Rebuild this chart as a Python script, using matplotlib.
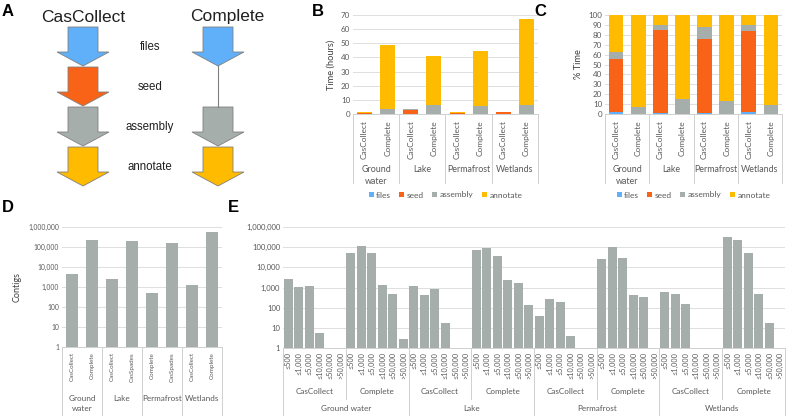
import numpy as np
import matplotlib.pyplot as plt
from matplotlib.patches import Polygon
from matplotlib.ticker import FuncFormatter, FixedLocator
import matplotlib.transforms as mtrans

plt.rcParams['font.family'] = ['Lato', 'DejaVu Sans']
plt.rcParams['text.color'] = '#404040'

# colours for the pipeline steps
c_files = '#5fb0f8'
c_seed = '#f86318'
c_asm = '#a5aeab'
c_ann = '#ffbb00'
c_grid = '#dedede'
c_tick = '#595959'

steps = ['files', 'seed', 'assembly', 'annotate']
envs = ['Ground\nwater', 'Lake', 'Permafrost', 'Wetlands']
methods = ['CasCollect', 'Complete']

# B: time in hours (CasCollect, Complete per environment)
b_files = [0.04, 0.0, 0.04, 0.0, 0.02, 0.0, 0.04, 0.0]
b_seed = [0.85, 0.0, 3.1, 0.0, 0.85, 0.0, 1.25, 0.0]
b_asm = [0.12, 3.4, 0.18, 6.4, 0.13, 5.6, 0.1, 6.4]
b_ann = [0.6, 45.4, 0.35, 34.9, 0.15, 39.2, 0.16, 61.0]

# C: % time
c_files_v = [2.5, 0.0, 1.0, 0.0, 1.5, 0.0, 2.5, 0.0]
c_seed_v = [53.5, 0.0, 84.0, 0.0, 74.5, 0.0, 81.0, 0.0]
c_asm_v = [7.0, 7.0, 5.0, 15.5, 11.5, 13.0, 6.0, 9.5]
c_ann_v = [37.0, 93.0, 10.0, 84.5, 12.5, 87.0, 10.5, 90.5]

# D: total contigs
d_labels = ['CasCollect', 'Complete', 'CasCollect', 'CasSpades',
            'Complete', 'CasSpades', 'CasCollect', 'Complete']
d_vals = [4700, 212000, 2400, 205000, 520, 150000, 1200, 560000]

# E: contigs by length bin
e_bins = ['≤500', '≤1,000', '≤5,000', '≤10,000', '≤50,000', '>50,000']
e_groups = ['Ground water', 'Lake', 'Permafrost', 'Wetlands']
e_vals = [
    [2600, 1070, 1200, 5.3, 0, 0],
    [50000, 112000, 49000, 1380, 480, 2.9],
    [1200, 410, 850, 16.5, 0, 0],
    [71000, 96000, 36000, 2450, 1600, 132],
    [40, 270, 200, 4, 0, 0],
    [25700, 100000, 29000, 430, 330, 0],
    [580, 460, 160, 0, 0, 0],
    [337000, 230000, 49000, 460, 18, 0],
]

W, H = 787, 416
fig = plt.figure(figsize=(W / 100, H / 100), dpi=100)


def ax_px(x0, y0, x1, y1):
    return fig.add_axes([x0 / W, 1 - y1 / H, (x1 - x0) / W, (y1 - y0) / H])


def style(ax):
    for s in ['top', 'right', 'left']:
        ax.spines[s].set_visible(False)
    ax.spines['bottom'].set_color('#d0d0d0')
    ax.spines['bottom'].set_linewidth(0.7)
    ax.tick_params(axis='y', length=0, colors=c_tick, pad=2)
    ax.tick_params(axis='x', length=0, labelbottom=False)
    ax.grid(axis='y', color=c_grid, linewidth=0.7)
    ax.set_axisbelow(True)


def cat_labels(ax, hpx, xs, labels, off, size, rot=90):
    tr = mtrans.blended_transform_factory(ax.transData, ax.transAxes)
    for x, lab in zip(xs, labels):
        ax.text(x, -off / hpx, lab, transform=tr, rotation=rot, ha='center',
                va='top', fontsize=size, color=c_tick, linespacing=1.5)


def seps(ax, hpx, xs, depth):
    tr = mtrans.blended_transform_factory(ax.transData, ax.transAxes)
    for x in xs:
        ax.plot([x, x], [0, -depth / hpx], transform=tr, color='#d0d0d0',
                linewidth=0.7, clip_on=False)


def cat_setup(ax, hpx, names, size, gsize, rot_off, grp_off, depth):
    x = np.arange(8)
    cat_labels(ax, hpx, x, names, rot_off, size)
    cat_labels(ax, hpx, np.arange(4) * 2 + 0.5, envs, grp_off, gsize, rot=0)
    seps(ax, hpx, np.arange(5) * 2 - 0.5, depth)


# ---------------- A: pipeline arrows
axa = fig.add_axes([0, 1 - 200 / H, 250 / W, 200 / H])
axa.set_xlim(0, 250)
axa.set_ylim(200, 0)
axa.axis('off')


def arrow(cx, top, col):
    pts = [(cx - 15, top), (cx + 15, top), (cx + 15, top + 25), (cx + 26, top + 25),
           (cx, top + 39), (cx - 26, top + 25), (cx - 15, top + 25)]
    axa.add_patch(Polygon(pts, closed=True, facecolor=col, edgecolor='#808080',
                          linewidth=0.6))


for i, col in enumerate([c_files, c_seed, c_asm, c_ann]):
    arrow(83, 27 + 40 * i, col)
axa.plot([218, 218], [66, 107], color='#808080', linewidth=0.8)
for i, col in [(0, c_files), (2, c_asm), (3, c_ann)]:
    arrow(218, 27 + 40 * i, col)
for i, s in enumerate(steps):
    axa.text(150, 47 + 40 * i, s, ha='center', va='center', fontsize=8.3,
             color='#202020', family='Liberation Sans')
axa.text(83, 17, 'CasCollect', ha='center', va='center', fontsize=12.5,
         color='#202020', family='Liberation Sans')
axa.text(227, 17, 'Complete', ha='center', va='center', fontsize=12.5,
         color='#202020', family='Liberation Sans')

# ---------------- B: time in hours
hB = 99
axb = ax_px(353, 15, 538, 114)
x = np.arange(8)
bottom = np.zeros(8)
for vals, col, lab in zip([b_files, b_seed, b_asm, b_ann],
                          [c_files, c_seed, c_asm, c_ann], steps):
    axb.bar(x, vals, 0.65, bottom=bottom, color=col, label=lab)
    bottom += np.array(vals)
axb.set_xlim(-0.5, 7.5)
axb.set_ylim(0, 70)
axb.set_yticks(range(0, 71, 10))
style(axb)
axb.tick_params(axis='y', labelsize=5.8)
axb.set_ylabel('Time (hours)', fontsize=6.7, color='#404040', labelpad=4)
cat_setup(axb, hB, methods * 4, 6.0, 6.4, 6, 51, 69)
axb.legend(loc='center', bbox_to_anchor=(0.5, -81 / hB), ncol=4, frameon=False,
           fontsize=6.0, handlelength=0.6, handleheight=0.6, handletextpad=0.3,
           columnspacing=1.0, labelcolor=c_tick)

# ---------------- C: percent time
hC = 99
axc = ax_px(605, 15, 782, 114)
bottom = np.zeros(8)
for vals, col, lab in zip([c_files_v, c_seed_v, c_asm_v, c_ann_v],
                          [c_files, c_seed, c_asm, c_ann], steps):
    axc.bar(x, vals, 0.67, bottom=bottom, color=col, label=lab)
    bottom += np.array(vals)
axc.set_xlim(-0.5, 7.5)
axc.set_ylim(0, 100)
axc.set_yticks(range(0, 101, 10))
style(axc)
axc.tick_params(axis='y', labelsize=5.8)
axc.set_ylabel('% Time', fontsize=6.7, color='#404040', labelpad=4)
cat_setup(axc, hC, methods * 4, 6.0, 6.4, 6, 51, 69)
axc.legend(loc='center', bbox_to_anchor=(0.5, -81 / hC), ncol=4, frameon=False,
           fontsize=6.0, handlelength=0.6, handleheight=0.6, handletextpad=0.3,
           columnspacing=1.0, labelcolor=c_tick)

fmt = FuncFormatter(lambda v, p: f'{int(round(v)):,}')

# ---------------- D: contigs total
hD = 120
axd = ax_px(62, 227, 222, 347)
axd.bar(x, d_vals, 0.6, color=c_asm)
axd.set_yscale('log')
axd.set_xlim(-0.5, 7.5)
axd.set_ylim(1, 1e6)
axd.yaxis.set_major_locator(FixedLocator([10 ** k for k in range(7)]))
axd.yaxis.set_minor_locator(FixedLocator([]))
axd.yaxis.set_major_formatter(fmt)
style(axd)
axd.tick_params(axis='y', labelsize=4.9)
axd.set_ylabel('Contigs', fontsize=6.5, color='#404040', labelpad=5)
cat_setup(axd, hD, d_labels, 4.5, 5.9, 5, 48, 69)

# ---------------- E: contigs by length
hE = 121
axe = ax_px(283, 227, 785, 348)
xe = np.arange(48)
axe.bar(xe, np.array(e_vals).ravel(), 0.86, color=c_asm)
axe.set_yscale('log')
axe.set_xlim(-0.5, 47.5)
axe.set_ylim(1, 1e6)
axe.yaxis.set_major_locator(FixedLocator([10 ** k for k in range(7)]))
axe.yaxis.set_minor_locator(FixedLocator([]))
axe.yaxis.set_major_formatter(fmt)
style(axe)
axe.tick_params(axis='y', labelsize=5.5)
cat_labels(axe, hE, xe, e_bins * 8, 4, 5.2)
cat_labels(axe, hE, np.arange(8) * 6 + 2.5, methods * 4, 40, 5.9, rot=0)
cat_labels(axe, hE, np.arange(4) * 12 + 5.5, e_groups, 57, 5.9, rot=0)
seps(axe, hE, np.arange(8) * 6 - 0.5, 51)
seps(axe, hE, np.arange(5) * 12 - 0.5, 70)

# panel letters
for lab, px, py in [('A', 8, 12), ('B', 318, 12), ('C', 540, 12),
                    ('D', 8, 208), ('E', 233, 208)]:
    fig.text(px / W, 1 - py / H, lab, fontsize=12, fontweight='bold',
             color='black', family='Liberation Sans', ha='center', va='center')

fig.savefig('out.png', dpi=100)
